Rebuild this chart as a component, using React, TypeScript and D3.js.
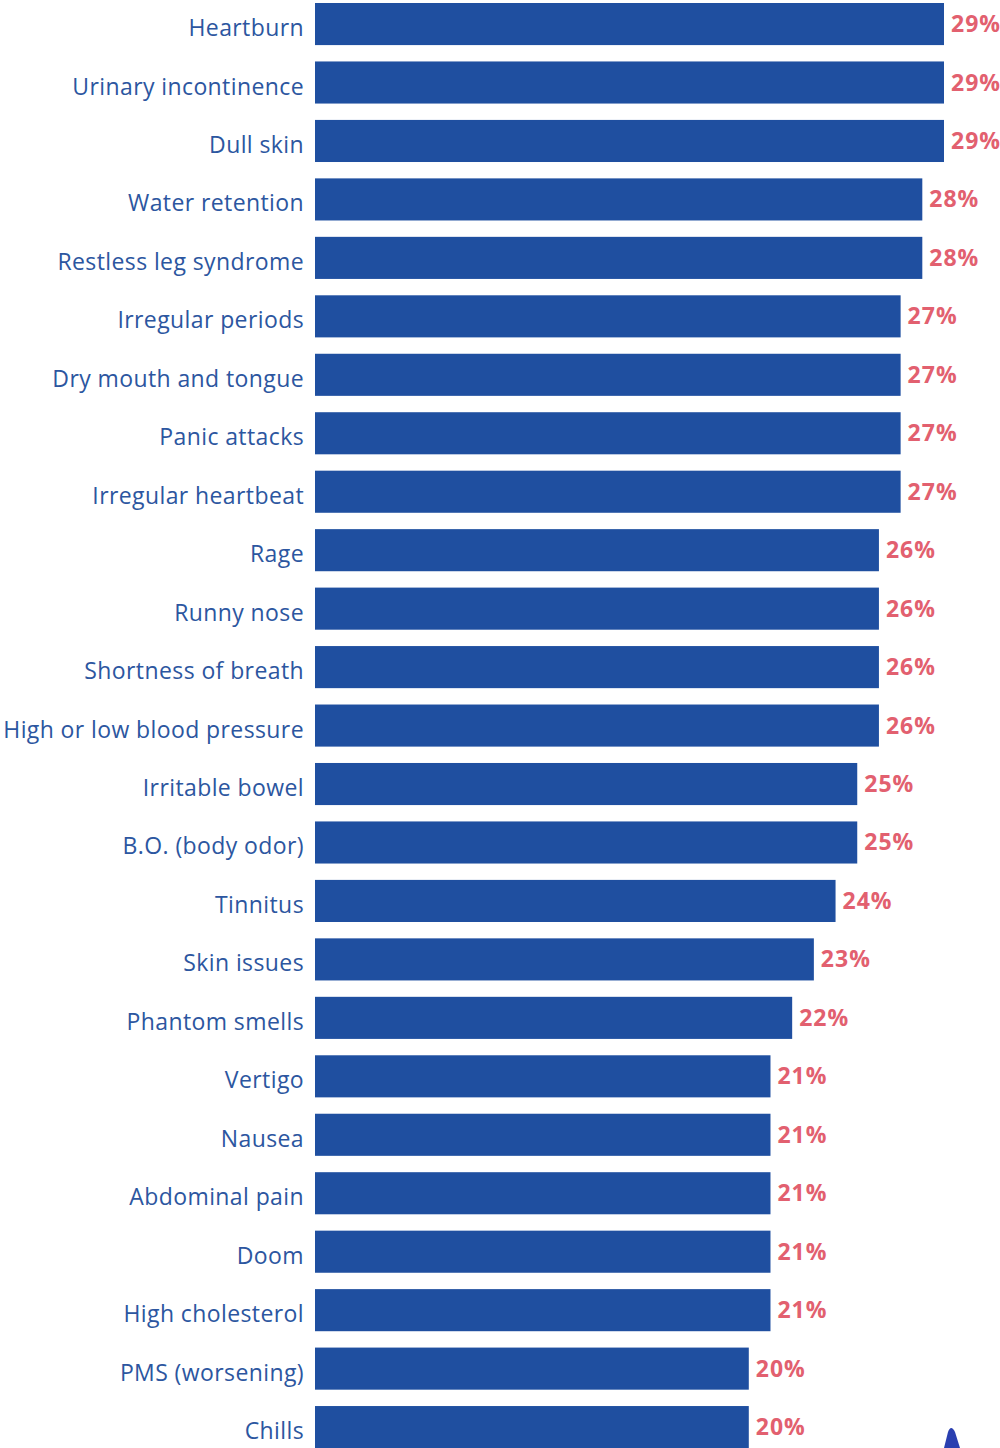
import React from "react";
import * as d3 from "d3";

const categories = [
  "Heartburn", "Urinary incontinence", "Dull skin", "Water retention", "Restless leg syndrome",
  "Irregular periods", "Dry mouth and tongue", "Panic attacks", "Irregular heartbeat", "Rage",
  "Runny nose", "Shortness of breath", "High or low blood pressure", "Irritable bowel", "B.O. (body odor)",
  "Tinnitus", "Skin issues", "Phantom smells", "Vertigo", "Nausea",
  "Abdominal pain", "Doom", "High cholesterol", "PMS (worsening)", "Chills",
];
const values = [29, 29, 29, 28, 28, 27, 27, 27, 27, 26, 26, 26, 26, 25, 25, 24, 23, 22, 21, 21, 21, 21, 21, 20, 20];

const W = 1000;
const H = 1448;
const BAR = "#1f4fa0";
const LABEL = "#2c56a0";
const VALUE = "#e2606f";

export default function App() {
  const step = 58.46;
  const y = d3.scaleBand<string>()
    .domain(categories)
    .range([3 - 0.14 * step, 3 - 0.14 * step + 25 * step])
    .paddingInner(0.28)
    .paddingOuter(0.14);
  const x = d3.scaleLinear().domain([0, 29]).range([315, 944]);

  return (
    <svg width={W} height={H} style={{ position: "absolute", left: 0, top: 0, background: "#fff" }}
      fontFamily="'Open Sans', sans-serif">
      {categories.map((c, i) => {
        const y0 = y(c)!;
        const bw = y.bandwidth();
        return (
          <g key={c}>
            <rect x={x(0)} y={y0} width={x(values[i]) - x(0)} height={bw} fill={BAR} />
            <text x={304} y={y0 + bw / 2 + 3} textAnchor="end" dominantBaseline="central"
              fontSize={23} letterSpacing={0.4} fill={LABEL}>{c}</text>
            <text x={x(values[i]) + 7} y={y0 + bw / 2 - 1} dominantBaseline="central"
              fontSize={23} letterSpacing={1} fontWeight="bold" fill={VALUE}>{values[i] + "%"}</text>
          </g>
        );
      })}
      <path d="M944,1448 L948,1432 Q951,1424 955,1432 L960,1448 Z" fill="#2a3fb0" />
    </svg>
  );
}
